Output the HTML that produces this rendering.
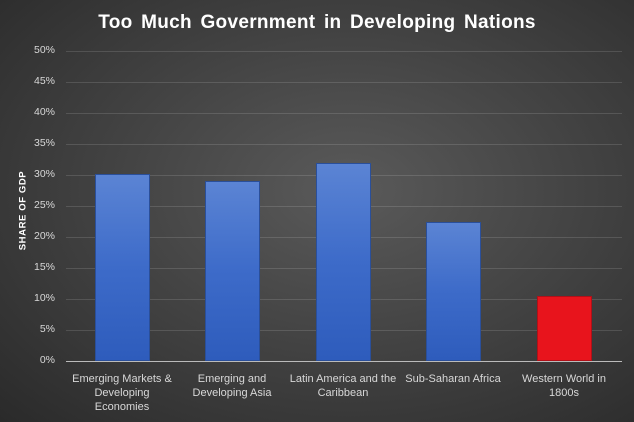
<!DOCTYPE html><html><head><style>
body{margin:0}
#c{width:634px;height:422px;position:relative;overflow:hidden;font-family:"Liberation Sans",sans-serif;background:radial-gradient(ellipse at 55% 45%,#5a5a5a 0%,#444 45%,#2a2a2a 100%)}
.t{position:absolute;top:12px;left:0;width:634px;text-align:center;color:#fff;font-weight:bold;font-size:19px;letter-spacing:0.3px;word-spacing:3px}
.g{position:absolute;left:66px;width:556px;height:1px;background:rgba(255,255,255,0.13)}
.yl{position:absolute;left:10px;width:45px;text-align:right;color:#d8d8d8;font-size:10.5px}
.b{position:absolute;width:55px;bottom:61px;background:linear-gradient(#5b84d4,#3d6bc9 50%,#2e5cbc);border:1px solid #2a4f9a;box-sizing:border-box}
.xl{position:absolute;top:372px;width:120px;text-align:center;color:#d8d8d8;font-size:11px;line-height:14px}
.ya{position:absolute;left:-22px;top:205px;transform:rotate(-90deg);color:#fff;font-weight:bold;font-size:9.5px;letter-spacing:0.6px;width:90px;text-align:center}
</style></head><body><div id="c">
<div class="t">Too Much Government in Developing Nations</div>
<div class="ya">SHARE OF GDP</div>
<div class="g" style="top:51px"></div><div class="g" style="top:82px"></div><div class="g" style="top:113px"></div><div class="g" style="top:144px"></div><div class="g" style="top:175px"></div><div class="g" style="top:206px"></div><div class="g" style="top:237px"></div><div class="g" style="top:268px"></div><div class="g" style="top:299px"></div><div class="g" style="top:330px"></div>
<div class="g" style="top:361px;background:#bbb"></div>
<div class="yl" style="top:44px">50%</div><div class="yl" style="top:75px">45%</div><div class="yl" style="top:106px">40%</div><div class="yl" style="top:137px">35%</div><div class="yl" style="top:168px">30%</div><div class="yl" style="top:199px">25%</div><div class="yl" style="top:230px">20%</div><div class="yl" style="top:261px">15%</div><div class="yl" style="top:292px">10%</div><div class="yl" style="top:323px">5%</div><div class="yl" style="top:354px">0%</div>
<div class="b" style="left:95px;top:174px"></div>
<div class="b" style="left:205px;top:181px"></div>
<div class="b" style="left:316px;top:163px"></div>
<div class="b" style="left:426px;top:222px"></div>
<div class="b" style="left:537px;top:296px;background:#e8141c;border-color:#b01018"></div>
<div class="xl" style="left:62px">Emerging Markets &amp;<br>Developing<br>Economies</div>
<div class="xl" style="left:172px">Emerging and<br>Developing Asia</div>
<div class="xl" style="left:283px">Latin America and the<br>Caribbean</div>
<div class="xl" style="left:393px">Sub-Saharan Africa</div>
<div class="xl" style="left:504px">Western World in<br>1800s</div>
</div></body></html>
